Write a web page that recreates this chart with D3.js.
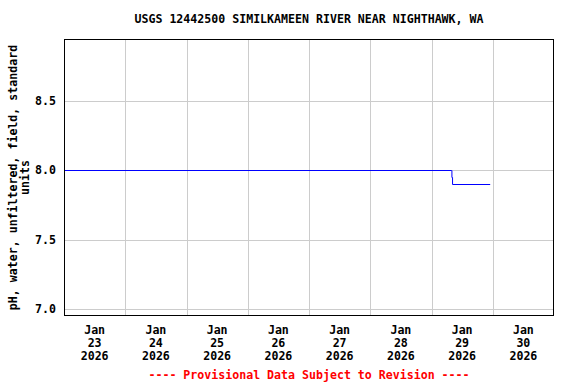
<!DOCTYPE html>
<html>
<head>
<meta charset="utf-8">
<script src="https://cdn.jsdelivr.net/npm/d3@7"></script>
<style>
body { margin: 0; background: #fff; }
text { font-family: "DejaVu Sans Mono", monospace; font-weight: bold; font-size: 11.6px; }
</style>
</head>
<body>
<div id="vis"></div>
<script>
// chart values
var title = "USGS 12442500 SIMILKAMEEN RIVER NEAR NIGHTHAWK, WA";
var yLabel = ["pH, water, unfiltered, field, standard", "units"];
var footer = "---- Provisional Data Subject to Revision ----";
var times = ["2026-01-22T23:45", "2026-01-29T07:45", "2026-01-29T08:00", "2026-01-29T08:15", "2026-01-29T23:00"];
var phValues = [8.0, 8.0, 7.95, 7.9, 7.9];
var yTicks = [7.0, 7.5, 8.0, 8.5];
var xTickDays = ["2026-01-23", "2026-01-24", "2026-01-25", "2026-01-26", "2026-01-27", "2026-01-28", "2026-01-29", "2026-01-30"];

var W = 576, H = 384;
var m = {left: 64, right: 22, top: 39, bottom: 68};
var pw = W - m.left - m.right, ph = H - m.top - m.bottom;

var parse = d3.timeParse("%Y-%m-%dT%H:%M");
var parseDay = d3.timeParse("%Y-%m-%d");
var data = times.map(function(t, i) { return {t: parse(t), v: phValues[i]}; });

var svg = d3.select("#vis").append("svg").attr("width", W).attr("height", H);

var x = d3.scaleTime()
    .domain([parseDay("2026-01-23"), parseDay("2026-01-31")])
    .range([0, pw]);
var y = d3.scaleLinear().domain([6.95, 8.947]).range([ph, 0]);

var g = svg.append("g").attr("transform", "translate(" + m.left + "," + m.top + ")");

var clip = svg.append("clipPath").attr("id", "clip")
    .append("rect").attr("width", pw).attr("height", ph);

// grid lines
var days = d3.timeDay.range(parseDay("2026-01-24"), parseDay("2026-01-31"));
g.selectAll("line.vg").data(days).enter().append("line")
    .attr("class", "vg")
    .attr("x1", function(d) { return Math.round(x(d)) + 0.5; })
    .attr("x2", function(d) { return Math.round(x(d)) + 0.5; })
    .attr("y1", 0).attr("y2", ph)
    .attr("stroke", "#cccccc");
g.selectAll("line.hg").data(yTicks).enter().append("line")
    .attr("class", "hg")
    .attr("x1", 0).attr("x2", pw)
    .attr("y1", function(d) { return Math.round(y(d)) + 0.5; })
    .attr("y2", function(d) { return Math.round(y(d)) + 0.5; })
    .attr("stroke", "#cccccc");

// data line
var line = d3.line()
    .x(function(d) { return x(d.t); })
    .y(function(d) { return Math.round(y(d.v)) + 0.5; })
    .curve(d3.curveStepAfter);
g.append("path").datum(data)
    .attr("clip-path", "url(#clip)")
    .attr("d", line)
    .attr("fill", "none")
    .attr("stroke", "#0000ff")
    .attr("stroke-width", 1);

// frame
g.append("rect").attr("x", 0.5).attr("y", 0.5)
    .attr("width", pw - 1).attr("height", ph - 1)
    .attr("fill", "none").attr("stroke", "#000");

// y tick labels
g.selectAll("text.yt").data(yTicks).enter().append("text")
    .attr("class", "yt")
    .attr("x", -8)
    .attr("y", function(d) { return y(d); })
    .attr("dy", "0.35em")
    .attr("text-anchor", "end")
    .text(function(d) { return d3.format(".1f")(d); });

// x tick labels (noon of each day)
var xl = g.selectAll("g.xt").data(xTickDays).enter().append("g")
    .attr("class", "xt")
    .attr("transform", function(d) {
        return "translate(" + x(d3.timeHour.offset(parseDay(d), 12)) + "," + (ph + 18) + ")";
    });
xl.each(function(d) {
    var dt = parseDay(d);
    var lines = [d3.timeFormat("%b")(dt), d3.timeFormat("%d")(dt), d3.timeFormat("%Y")(dt)];
    d3.select(this).selectAll("text").data(lines).enter().append("text")
        .attr("text-anchor", "middle")
        .attr("y", function(s, i) { return i * 13; })
        .text(function(s) { return s; });
});

// title
svg.append("text")
    .attr("x", m.left + pw / 2).attr("y", 23)
    .attr("text-anchor", "middle")
    .text(title);

// y label
var yl = svg.append("text")
    .attr("transform", "translate(17," + (m.top + ph / 2) + ") rotate(-90)")
    .attr("text-anchor", "middle");
yl.selectAll("tspan").data(yLabel).enter().append("tspan")
    .attr("x", 0)
    .attr("dy", function(d, i) { return i == 0 ? 0 : 12; })
    .text(function(d) { return d; });

// footer
svg.append("text")
    .attr("x", m.left + pw / 2).attr("y", 379)
    .attr("text-anchor", "middle")
    .attr("fill", "#ff0000")
    .text(footer);
</script>
</body>
</html>
